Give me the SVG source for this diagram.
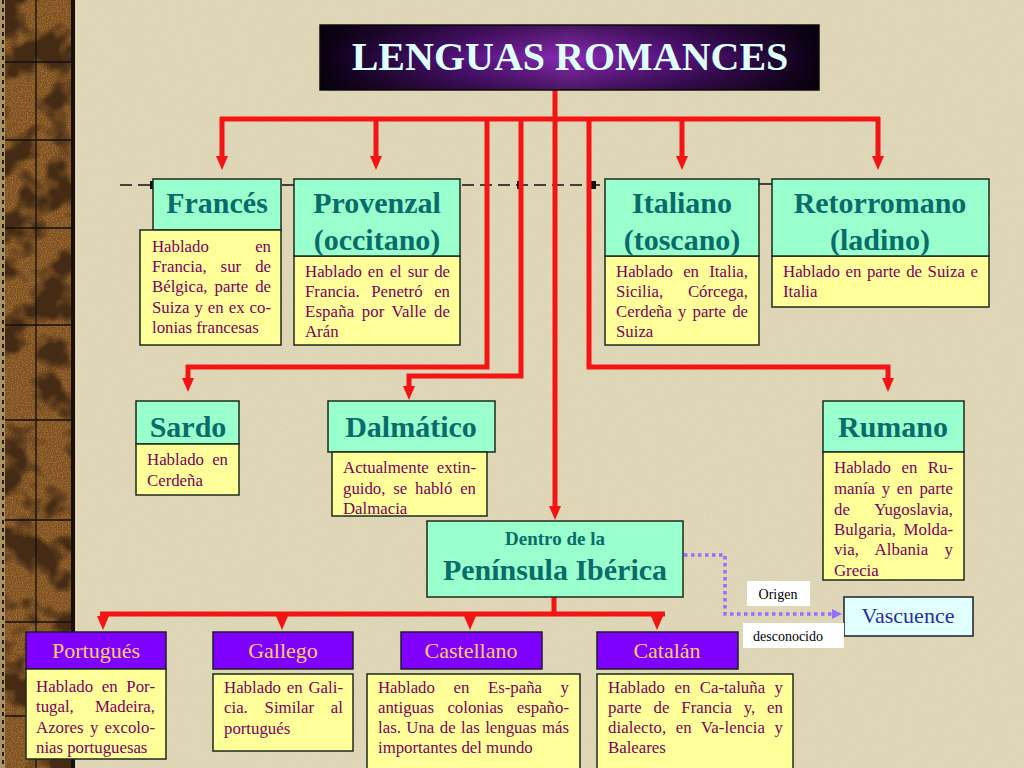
<svg xmlns="http://www.w3.org/2000/svg" width="1024" height="768" viewBox="0 0 1024 768">
<defs>
<style>
.hdr{fill:#99FFCC;stroke:#1c2a1c;stroke-width:1.5}
.desc{fill:#FFFF99;stroke:#1c2a1c;stroke-width:1.5}
.vio{fill:#8000FF;stroke:#1c1c2a;stroke-width:1.5}
.ht{font-family:"Liberation Serif","Times New Roman",serif;font-weight:bold;font-size:30px;fill:#0a6b6b;text-anchor:middle}
.dt{font-family:"Liberation Serif","Times New Roman",serif;font-size:16.8px;fill:#800060}
.vt{font-family:"Liberation Serif","Times New Roman",serif;font-size:22px;fill:#FFCC66;text-anchor:middle}
.red{fill:none;stroke:#F41414;stroke-width:5}
.lab{font-family:"Liberation Serif","Times New Roman",serif;font-size:14px;fill:#000;text-anchor:middle}
</style>
<linearGradient id="tg" x1="0" y1="0" x2="1" y2="0">
<stop offset="0" stop-color="#0a0012"/>
<stop offset="0.3" stop-color="#5a1484"/>
<stop offset="0.5" stop-color="#8a2ab4"/>
<stop offset="0.7" stop-color="#5a1484"/>
<stop offset="1" stop-color="#0a0012"/>
</linearGradient>
<linearGradient id="tgv" x1="0" y1="0" x2="0" y2="1">
<stop offset="0" stop-color="#000" stop-opacity="0.45"/>
<stop offset="0.5" stop-color="#000" stop-opacity="0"/>
<stop offset="1" stop-color="#000" stop-opacity="0.45"/>
</linearGradient>
<filter id="wood" x="0" y="0" width="1" height="1" color-interpolation-filters="sRGB">
<feTurbulence type="fractalNoise" baseFrequency="0.8" numOctaves="1" seed="3" result="f"/>
<feColorMatrix in="f" type="matrix" values="0 0 0 0 0.72  0 0 0 0 0.48  0 0 0 0 0.2  2.4 0 0 0 -1.0" result="spk"/>
<feTurbulence type="fractalNoise" baseFrequency="0.028" numOctaves="3" seed="11" result="c"/>
<feColorMatrix in="c" type="matrix" values="0 0 0 0 0.27  0 0 0 0 0.17  0 0 0 0 0.08  5 0 0 0 -2.3" result="dark"/>
<feMerge><feMergeNode in="SourceGraphic"/><feMergeNode in="spk"/><feMergeNode in="dark"/></feMerge>
</filter>
<filter id="paper" x="0" y="0" width="1" height="1">
<feTurbulence type="fractalNoise" baseFrequency="0.9" numOctaves="2" seed="2" result="n"/>
<feColorMatrix in="n" type="matrix" values="0 0 0 0 0.5  0 0 0 0 0.45  0 0 0 0 0.3  0 0 0 0.3 0" result="g"/>
<feMerge><feMergeNode in="SourceGraphic"/><feMergeNode in="g"/></feMerge>
</filter>
<marker id="ar" viewBox="0 0 14 12" markerWidth="14" markerHeight="12" refX="1" refY="6" orient="auto" markerUnits="userSpaceOnUse">
<path d="M0,0 L14,6 L0,12 z" fill="#F41414"/>
</marker>
<marker id="ap" viewBox="0 0 10 10" markerWidth="10" markerHeight="10" refX="1" refY="5" orient="auto" markerUnits="userSpaceOnUse">
<path d="M0,0 L10,5 L0,10 z" fill="#9A6BFF"/>
</marker>
</defs>

<!-- background -->
<rect x="0" y="0" width="1024" height="768" fill="#E4DBBC" filter="url(#paper)"/>

<!-- wood strip -->
<g id="strip">
<rect x="0" y="0" width="76" height="768" fill="#a89468"/>
<rect x="5" y="0" width="66" height="768" fill="#7a5024" filter="url(#wood)"/>
<g stroke="#111" stroke-width="1.3">
<line x1="36" y1="0" x2="36" y2="768"/>
<line x1="5" y1="62" x2="71" y2="62"/>
<line x1="5" y1="140" x2="71" y2="140"/>
<line x1="5" y1="228" x2="71" y2="228"/>
<line x1="5" y1="325" x2="71" y2="325"/>
<line x1="5" y1="420" x2="71" y2="420"/>
<line x1="5" y1="520" x2="71" y2="520"/>
<line x1="5" y1="622" x2="71" y2="622"/>
<line x1="5" y1="716" x2="71" y2="716"/>
</g>
<rect x="71" y="0" width="4" height="768" fill="#1a120a"/>
<line x1="76" y1="0" x2="76" y2="768" stroke="#e8dcc0" stroke-width="1.5"/>
<line x1="3" y1="0" x2="3" y2="768" stroke="#2a1a0a" stroke-width="2" stroke-dasharray="4,4"/>
</g>

<!-- dashed guide line -->
<g id="guide">
<line x1="120" y1="185" x2="605" y2="185" stroke="#111" stroke-width="1.5" stroke-dasharray="12,6"/>
<line x1="759" y1="184" x2="772" y2="184" stroke="#111" stroke-width="1.5"/>
<rect x="150" y="181" width="5" height="8" fill="#111"/>
<rect x="517" y="181" width="5" height="8" fill="#111"/>
<rect x="591" y="181" width="5" height="8" fill="#111"/>
</g>

<!-- connectors -->
<g id="connectors">
<path class="red" d="M555,90 V507" marker-end="url(#ar)"/>
<path class="red" d="M220,119 H880"/>
<path class="red" d="M222,117 V157" marker-end="url(#ar)"/>
<path class="red" d="M376,119 V157" marker-end="url(#ar)"/>
<path class="red" d="M682,119 V157" marker-end="url(#ar)"/>
<path class="red" d="M878,117 V157" marker-end="url(#ar)"/>
<path class="red" d="M487,119 V367 H188 V379" marker-end="url(#ar)"/>
<path class="red" d="M521,119 V376 H409 V387" marker-end="url(#ar)"/>
<path class="red" d="M589,119 V367 H888 V379" marker-end="url(#ar)"/>
<path class="red" d="M554,597 V614"/>
<path class="red" d="M100,614 H665"/>
<path class="red" d="M103,614 V617" marker-end="url(#ar)"/>
<path class="red" d="M282,614 V617" marker-end="url(#ar)"/>
<path class="red" d="M470,614 V617" marker-end="url(#ar)"/>
<path class="red" d="M657,614 V617" marker-end="url(#ar)"/>
<path d="M684,555 H725 V614 H833" fill="none" stroke="#9A6BFF" stroke-width="3.5" stroke-dasharray="3.5,3.5" marker-end="url(#ap)"/>
</g>

<!-- title -->
<g id="title">
<rect x="320" y="25" width="499" height="65" fill="url(#tg)" stroke="#111" stroke-width="1.5"/>
<rect x="320" y="25" width="499" height="65" fill="url(#tgv)"/>
<text x="570" y="70" font-family="'Liberation Serif','Times New Roman',serif" font-weight="bold" font-size="40" fill="#DDFFFF" text-anchor="middle">LENGUAS ROMANCES</text>
</g>

<!-- Francés -->
<g id="frances">
<rect class="hdr" x="153" y="179" width="128" height="51"/>
<rect class="desc" x="140" y="230" width="141" height="115"/>
<text class="ht" x="217" y="213">Francés</text>
<text class="dt" x="152" y="252">Hablado</text>
<text class="dt" x="271" y="252" text-anchor="end">en</text>
<text class="dt" x="152" y="272" word-spacing="9.8" textLength="119" lengthAdjust="spacing">Francia, sur de</text>
<text class="dt" x="152" y="292" word-spacing="2.8" textLength="119" lengthAdjust="spacing">Bélgica, parte de</text>
<text class="dt" x="152" y="313" word-spacing="0.8" textLength="119" lengthAdjust="spacing">Suiza y en ex co-</text>
<text class="dt" x="152" y="333">lonias francesas</text>
</g>

<!-- Provenzal -->
<g id="provenzal">
<rect class="desc" x="294" y="256" width="166" height="89"/>
<rect class="hdr" x="294" y="179" width="166" height="77"/>
<text class="ht" x="377" y="213">Provenzal</text>
<text class="ht" x="377" y="250">(occitano)</text>
<text class="dt" x="305" y="277" word-spacing="1.7" textLength="145" lengthAdjust="spacing">Hablado en el sur de</text>
<text class="dt" x="305" y="297" word-spacing="7.4" textLength="145" lengthAdjust="spacing">Francia. Penetró en</text>
<text class="dt" x="305" y="317" word-spacing="3.1" textLength="145" lengthAdjust="spacing">España por Valle de</text>
<text class="dt" x="305" y="337">Arán</text>
</g>

<!-- Italiano -->
<g id="italiano">
<rect class="desc" x="605" y="256" width="154" height="89"/>
<rect class="hdr" x="605" y="179" width="154" height="77"/>
<text class="ht" x="682" y="213">Italiano</text>
<text class="ht" x="682" y="250">(toscano)</text>
<text class="dt" x="616" y="277" word-spacing="6" textLength="132" lengthAdjust="spacing">Hablado en Italia,</text>
<text class="dt" x="616" y="297">Sicilia,</text>
<text class="dt" x="748" y="297" text-anchor="end">Córcega,</text>
<text class="dt" x="616" y="317" word-spacing="1.9" textLength="132" lengthAdjust="spacing">Cerdeña y parte de</text>
<text class="dt" x="616" y="337">Suiza</text>
</g>

<!-- Retorromano -->
<g id="retorromano">
<rect class="desc" x="772" y="256" width="217" height="51"/>
<rect class="hdr" x="772" y="179" width="217" height="77"/>
<text class="ht" x="880" y="213">Retorromano</text>
<text class="ht" x="880" y="250">(ladino)</text>
<text class="dt" x="783" y="277" word-spacing="1.4" textLength="195" lengthAdjust="spacing">Hablado en parte de Suiza e</text>
<text class="dt" x="783" y="297">Italia</text>
</g>

<!-- Sardo -->
<g id="sardo">
<rect class="hdr" x="136" y="401" width="103" height="43"/>
<rect class="desc" x="136" y="444" width="103" height="51"/>
<text class="ht" x="188" y="437">Sardo</text>
<text class="dt" x="147" y="465" word-spacing="4" textLength="81" lengthAdjust="spacing">Hablado en</text>
<text class="dt" x="147" y="486">Cerdeña</text>
</g>

<!-- Dalmático -->
<g id="dalmatico">
<rect class="hdr" x="328" y="401" width="167" height="51"/>
<rect class="desc" x="332" y="452" width="155" height="64"/>
<text class="ht" x="411" y="437">Dalmático</text>
<text class="dt" x="343" y="473" word-spacing="3.8" textLength="133" lengthAdjust="spacing">Actualmente extin-</text>
<text class="dt" x="343" y="494" word-spacing="3.6" textLength="133" lengthAdjust="spacing">guido, se habló en</text>
<text class="dt" x="343" y="514">Dalmacia</text>
</g>

<!-- Rumano -->
<g id="rumano">
<rect class="hdr" x="823" y="401" width="141" height="51"/>
<rect class="desc" x="823" y="452" width="141" height="128"/>
<text class="ht" x="893" y="437">Rumano</text>
<text class="dt" x="834" y="473" word-spacing="6.3" textLength="119" lengthAdjust="spacing">Hablado en Ru-</text>
<text class="dt" x="834" y="494" word-spacing="2.5" textLength="119" lengthAdjust="spacing">manía y en parte</text>
<text class="dt" x="834" y="515">de</text>
<text class="dt" x="953" y="515" text-anchor="end">Yugoslavia,</text>
<text class="dt" x="834" y="535" word-spacing="3.3" textLength="119" lengthAdjust="spacing">Bulgaria, Molda-</text>
<text class="dt" x="834" y="555" word-spacing="12.1" textLength="119" lengthAdjust="spacing">via, Albania y</text>
<text class="dt" x="834" y="576">Grecia</text>
</g>

<!-- Península Ibérica -->
<g id="peninsula">
<rect class="hdr" x="427" y="521" width="256" height="76"/>
<text class="ht" x="555" y="545" style="font-size:19px">Dentro de la</text>
<text class="ht" x="555" y="580">Península Ibérica</text>
</g>

<!-- Vascuence -->
<g id="vascuence">
<rect x="844" y="597" width="129" height="39" fill="#E0FFFF" stroke="#1c1c2a" stroke-width="1.5"/>
<text x="908" y="623" font-family="'Liberation Serif','Times New Roman',serif" font-size="22" fill="#2B2BA0" text-anchor="middle">Vascuence</text>
</g>

<!-- labels -->
<g id="labels">
<rect x="747" y="581" width="63" height="25" fill="#FFFFFF"/>
<text class="lab" x="778" y="599">Origen</text>
<rect x="743" y="623" width="101" height="25" fill="#FFFFFF"/>
<text class="lab" x="788" y="641">desconocido</text>
</g>

<!-- Portugués -->
<g id="portugues">
<rect class="vio" x="26" y="632" width="140" height="37"/>
<rect class="desc" x="26" y="669" width="140" height="90"/>
<text class="vt" x="96" y="658">Portugués</text>
<text class="dt" x="36" y="692" word-spacing="4.4" textLength="119" lengthAdjust="spacing">Hablado en Por-</text>
<text class="dt" x="36" y="712">tugal,</text>
<text class="dt" x="155" y="712" text-anchor="end">Madeira,</text>
<text class="dt" x="36" y="733" word-spacing="2.1" textLength="119" lengthAdjust="spacing">Azores y excolo-</text>
<text class="dt" x="36" y="753">nias portuguesas</text>
</g>

<!-- Gallego -->
<g id="gallego">
<rect class="vio" x="213" y="632" width="140" height="37"/>
<rect class="desc" x="213" y="674" width="140" height="77"/>
<text class="vt" x="283" y="658">Gallego</text>
<text class="dt" x="224" y="693" word-spacing="1.6" textLength="119" lengthAdjust="spacing">Hablado en Gali-</text>
<text class="dt" x="224" y="713" word-spacing="12.6" textLength="119" lengthAdjust="spacing">cia. Similar al</text>
<text class="dt" x="224" y="734">portugués</text>
</g>

<!-- Castellano -->
<g id="castellano">
<rect class="vio" x="401" y="632" width="141" height="37"/>
<rect class="desc" x="367" y="674" width="213" height="100"/>
<text class="vt" x="471" y="658">Castellano</text>
<text class="dt" x="378" y="693" word-spacing="14.4" textLength="191" lengthAdjust="spacing">Hablado en Es-paña y</text>
<text class="dt" x="378" y="713" word-spacing="9.2" textLength="191" lengthAdjust="spacing">antiguas colonias españo-</text>
<text class="dt" x="378" y="733" word-spacing="1.2" textLength="191" lengthAdjust="spacing">las. Una de las lenguas más</text>
<text class="dt" x="378" y="753">importantes del mundo</text>
</g>

<!-- Catalán -->
<g id="catalan">
<rect class="vio" x="597" y="632" width="141" height="37"/>
<rect class="desc" x="597" y="674" width="196" height="100"/>
<text class="vt" x="667" y="658">Catalán</text>
<text class="dt" x="608" y="693" word-spacing="5.3" textLength="175" lengthAdjust="spacing">Hablado en Ca-taluña y</text>
<text class="dt" x="608" y="713" word-spacing="7.5" textLength="175" lengthAdjust="spacing">parte de Francia y, en</text>
<text class="dt" x="608" y="733" word-spacing="5.2" textLength="175" lengthAdjust="spacing">dialecto, en Va-lencia y</text>
<text class="dt" x="608" y="753">Baleares</text>
</g>
</svg>
